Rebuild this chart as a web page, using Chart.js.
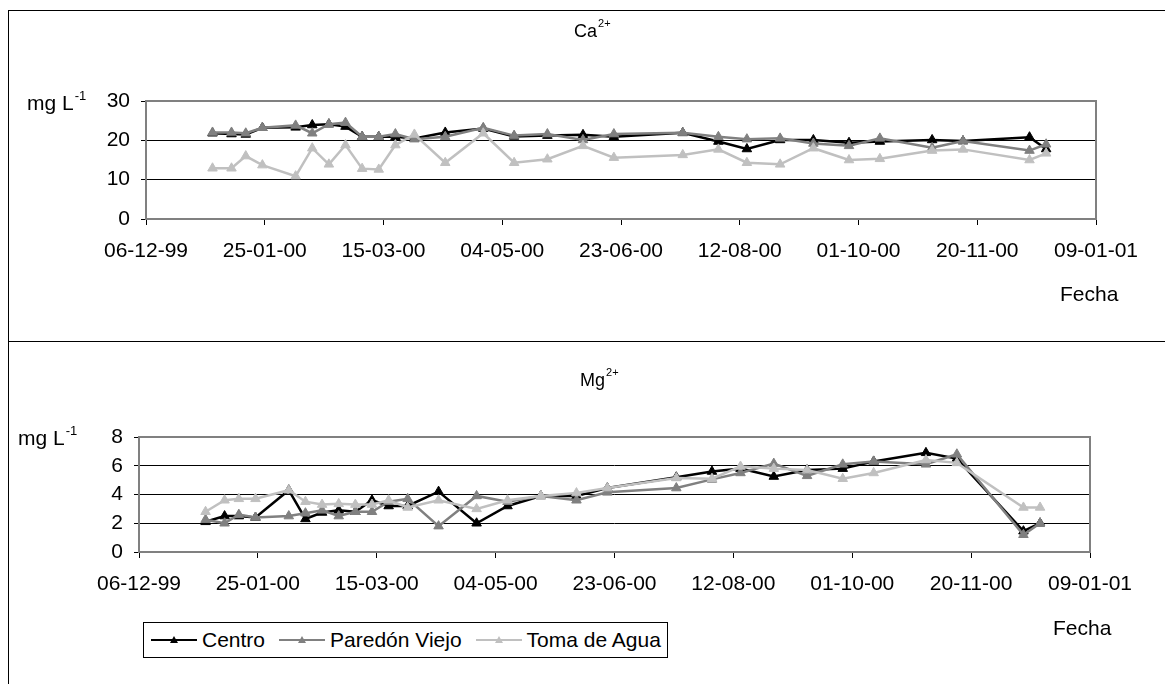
<!DOCTYPE html>
<html>
<head>
<meta charset="utf-8">
<script src="https://cdn.jsdelivr.net/npm/chart.js@4.4.1/dist/chart.umd.min.js"></script>
<style>
  body { margin: 0; background: #fff; font-family: "Liberation Sans", Arial, sans-serif; color: #000; }
  #page { position: relative; width: 1165px; height: 684px; overflow: hidden; }
  #page canvas { position: absolute; left: 0; }
  .frame { position: absolute; background: #000; }
  .lbl { position: absolute; font-size: 21px; line-height: 21px; white-space: nowrap; }
  .lbl sup { font-size: 13px; line-height: 13px; vertical-align: top; position: relative; top: -3px; margin-left: 1px; }
  .title { font-size: 18px; line-height: 18px; }
  .title sup { font-size: 11px; line-height: 11px; top: -4px; }
  #legend { position: absolute; left: 143px; top: 622px; height: 36px; border: 1px solid #000;
            display: flex; align-items: center; padding: 0 6px 0 7px; box-sizing: border-box;
            font-size: 21px; white-space: nowrap; background: #fff; }
  #legend .item { display: flex; align-items: center; margin-right: 14px; }
  #legend .item:last-child { margin-right: 0; }
  #legend svg { margin-right: 5px; }
</style>
</head>
<body>
<div id="page">
  <canvas id="caChart" width="1165" height="341" style="top:0"></canvas>
  <canvas id="mgChart" width="1165" height="343" style="top:341px"></canvas>

  <div class="frame" style="left:8px;top:10px;width:1157px;height:1px"></div>
  <div class="frame" style="left:8px;top:10px;width:1px;height:674px"></div>
  <div class="frame" style="left:8px;top:341px;width:1157px;height:1px"></div>

  <div class="lbl title" style="left:574px;top:22px">Ca<sup>2+</sup></div>
  <div class="lbl" style="left:27px;top:92px">mg L<sup>-1</sup></div>
  <div class="lbl" style="left:1060px;top:283px">Fecha</div>

  <div class="lbl title" style="left:580px;top:371px">Mg<sup>2+</sup></div>
  <div class="lbl" style="left:18px;top:427px">mg L<sup>-1</sup></div>
  <div class="lbl" style="left:1053px;top:617px">Fecha</div>

  <div id="legend"></div>
</div>

<script>
// fechas de muestreo (comunes a las tres estaciones)
const fechas = [
  "2000-01-03", "2000-01-11", "2000-01-17", "2000-01-24", "2000-02-07", "2000-02-14",
  "2000-02-21", "2000-02-28", "2000-03-06", "2000-03-13", "2000-03-20", "2000-03-28",
  "2000-04-10", "2000-04-26", "2000-05-09", "2000-05-23", "2000-06-07", "2000-06-20",
  "2000-07-19", "2000-08-03", "2000-08-15", "2000-08-29", "2000-09-12", "2000-09-27",
  "2000-10-10", "2000-11-01", "2000-11-14", "2000-12-12", "2000-12-19",
];

const estaciones = ["Centro", "Paredón Viejo", "Toma de Agua"];
const colores = ["#000000", "#808080", "#c0c0c0"];

// Ca2+ (mg/L)
const caCentro = [21.8, 21.6, 21.5, 23.2, 23.3, 23.9, 24.1, 23.5, 20.9, 20.9, 20.9, 20.5, 22.0, 23.0, 21.0,
                  21.2, 21.4, 20.9, 21.9, 19.7, 17.8, 20.1, 20.1, 19.4, 19.7, 20.1, 19.8, 20.8, 17.8];
const caParedon = [22.0, 22.0, 21.8, 23.2, 23.8, 21.8, 24.1, 24.5, 20.9, 20.9, 21.6, 20.3, 20.9, 23.2, 21.2,
                   21.6, 20.1, 21.6, 21.9, 20.9, 20.3, 20.5, 19.2, 18.6, 20.5, 18.1, 19.8, 17.4, 19.0];
const caToma = [12.9, 12.9, 16.0, 13.7, 10.9, 18.0, 13.9, 18.8, 12.8, 12.6, 18.8, 21.5, 14.3, 21.8, 14.3,
                15.2, 18.6, 15.6, 16.3, 17.7, 14.3, 13.9, 18.0, 15.0, 15.3, 17.4, 17.7, 15.0, 16.7];

// Mg2+ (mg/L)
const mgCentro = [2.1, 2.5, 2.5, 2.4, 4.3, 2.3, 2.75, 2.9, 2.8, 3.6, 3.2, 3.2, 4.2, 2.0, 3.2,
                  3.9, 3.9, 4.45, 5.2, 5.6, 5.8, 5.25, 5.7, 5.8, 6.3, 6.9, 6.5, 1.45, 2.0];
const mgParedon = [2.25, 2.0, 2.6, 2.4, 2.5, 2.7, 2.9, 2.5, 2.8, 2.8, 3.5, 3.7, 1.8, 3.9, 3.5,
                   3.9, 3.6, 4.15, 4.45, 5.05, 5.5, 6.15, 5.3, 6.1, 6.3, 6.1, 6.8, 1.2, 2.0];
const mgToma = [2.8, 3.6, 3.7, 3.7, 4.3, 3.5, 3.3, 3.35, 3.3, 3.3, 3.6, 3.1, 3.6, 3.0, 3.6,
                3.9, 4.1, 4.45, 5.15, 5.1, 5.95, 5.8, 5.7, 5.1, 5.5, 6.4, 6.2, 3.1, 3.1];

// eje X: días desde 06-12-99, marcas cada 50 días
const fechaInicio = "1999-12-06";
const diasTicks = [0, 50, 100, 150, 200, 250, 300, 350, 400];

const DIA = 86400000;
const t0 = Date.parse(fechaInicio);
const aDias = (f) => (Date.parse(f) - t0) / DIA;

function formatoFecha(v) {
  const d = new Date(t0 + v * DIA);
  const dd = String(d.getUTCDate()).padStart(2, "0");
  const mm = String(d.getUTCMonth() + 1).padStart(2, "0");
  const yy = String(d.getUTCFullYear() % 100).padStart(2, "0");
  return `${dd}-${mm}-${yy}`;
}

Chart.defaults.font.family = '"Liberation Sans", Arial, sans-serif';
Chart.defaults.font.size = 21;
Chart.defaults.color = "#000";

// marco gris del área de trazado
const marcoPlugin = {
  id: "marco",
  beforeDatasetsDraw(chart) {
    const { ctx, chartArea: a } = chart;
    ctx.save();
    ctx.strokeStyle = "#808080";
    ctx.lineWidth = 2;
    ctx.strokeRect(a.left, a.top, a.right - a.left, a.bottom - a.top);
    ctx.restore();
  },
};

function grafico(id, series, yMax, yStep, yWidth, pad) {
  const datasets = series.map((vals, i) => ({
    label: estaciones[i],
    data: vals.map((v, k) => ({ x: aDias(fechas[k]), y: v })),
    borderColor: colores[i],
    backgroundColor: colores[i],
    borderWidth: 2.5,
    pointStyle: "triangle",
    pointRadius: 5.5,
    pointBorderWidth: 1,
    pointBorderColor: colores[i],
    pointBackgroundColor: colores[i],
    tension: 0,
    order: 3 - i, // Toma de Agua encima
  }));

  return new Chart(document.getElementById(id), {
    type: "line",
    data: { datasets },
    options: {
      responsive: false,
      animation: false,
      layout: { padding: pad },
      plugins: { legend: { display: false }, tooltip: { enabled: false } },
      scales: {
        x: {
          type: "linear",
          min: 0,
          max: 400,
          afterBuildTicks: (s) => { s.ticks = diasTicks.map((v) => ({ value: v })); },
          afterFit: (s) => { s.height = 50; },
          border: { display: false },
          grid: { drawOnChartArea: false, drawTicks: true, tickLength: 6, tickColor: "#000" },
          ticks: { autoSkip: false, maxRotation: 0, padding: 14, callback: (v) => formatoFecha(v) },
        },
        y: {
          min: 0,
          max: yMax,
          afterFit: (s) => { s.width = yWidth; },
          border: { display: false },
          grid: {
            color: (c) => (c.tick.value === 0 || c.tick.value === yMax ? "rgba(0,0,0,0)" : "#000"),
            lineWidth: 1,
            tickLength: 5,
            tickColor: "#000",
          },
          ticks: { stepSize: yStep, padding: 11 },
        },
      },
    },
    plugins: [marcoPlugin],
  });
}

grafico("caChart", [caCentro, caParedon, caToma], 30, 10, 146,
        { left: 0, right: 69, top: 101, bottom: 72 });
grafico("mgChart", [mgCentro, mgParedon, mgToma], 8, 2, 139,
        { left: 0, right: 75, top: 96, bottom: 82 });

// leyenda
const leyenda = document.getElementById("legend");
estaciones.forEach((nombre, i) => {
  const item = document.createElement("div");
  item.className = "item";
  item.innerHTML =
    `<svg width="46" height="12"><line x1="0" y1="6" x2="46" y2="6" stroke="${colores[i]}" stroke-width="2"/>` +
    `<polygon points="23,2 27,9 19,9" fill="${colores[i]}"/></svg><span>${nombre}</span>`;
  leyenda.appendChild(item);
});
</script>
</body>
</html>
